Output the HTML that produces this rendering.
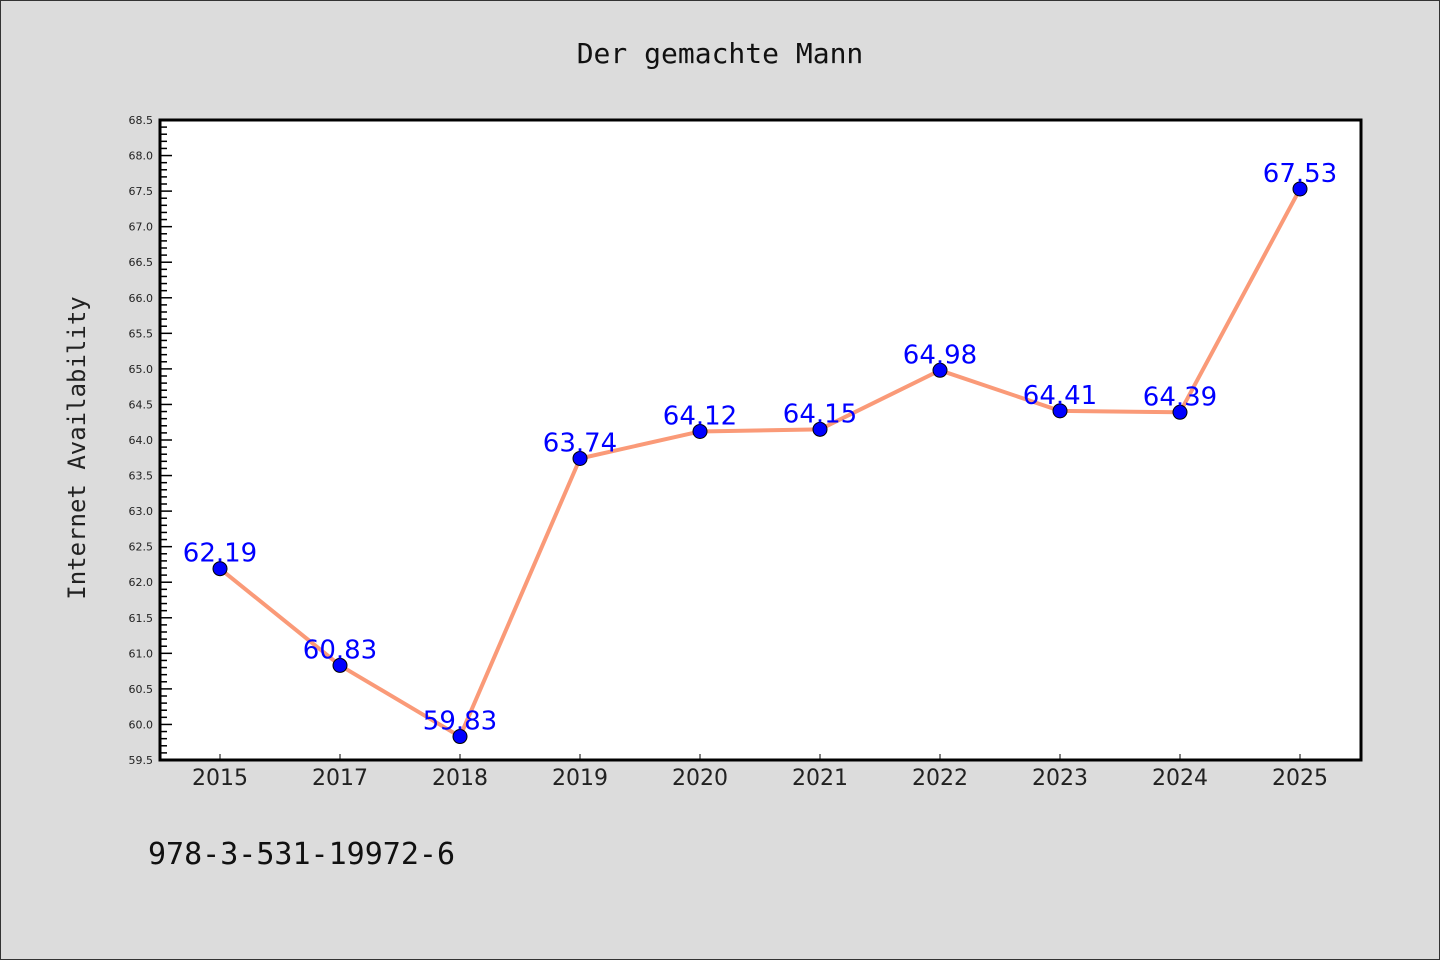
<!DOCTYPE html>
<html><head><meta charset="utf-8"><style>
body{margin:0;background:#dcdcdc;}
svg{display:block;}
</style></head><body>
<svg id="c" width="1440" height="960" xmlns="http://www.w3.org/2000/svg">
<rect x="0.5" y="0.5" width="1439" height="959" fill="#dcdcdc" stroke="#333"/>
<text x="720" y="63" text-anchor="middle" font-family="DejaVu Sans Mono, monospace" font-size="28" fill="#111">Der gemachte Mann</text>
<rect x="160" y="120" width="1201" height="640" fill="#fff"/>
<g id="ticks"></g>
<g id="series"></g>
<rect x="160" y="120" width="1201" height="640" fill="none" stroke="#000" stroke-width="3"/>
<text transform="translate(85,448) rotate(-90)" text-anchor="middle" font-family="DejaVu Sans Mono, monospace" font-size="24" fill="#222">Internet Availability</text>
<text x="148" y="864" font-family="DejaVu Sans Mono, monospace" font-size="30" fill="#111">978-3-531-19972-6</text>
</svg>
<script>
const categories=["2015","2017","2018","2019","2020","2021","2022","2023","2024","2025"];
const values=[62.19,60.83,59.83,63.74,64.12,64.15,64.98,64.41,64.39,67.53];
const labels=["62.19","60.83","59.83","63.74","64.12","64.15","64.98","64.41","64.39","67.53"];
const yMin=59.5,yMax=68.5;
const X0=160,W=1200,Y0=760,H=640;
const NS="http://www.w3.org/2000/svg";
function xs(i){return X0+W/categories.length*(i+0.5);}
function ys(v){return Y0-(v-yMin)/(yMax-yMin)*H;}
function mk(t,a,p){const e=document.createElementNS(NS,t);for(const k in a)e.setAttribute(k,a[k]);p.appendChild(e);return e;}
const tg=document.getElementById('ticks'),sg=document.getElementById('series');
for(let k=0;k<=90;k++){
  const v=yMin+k*0.1,y=ys(v),maj=k%5===0;
  const l=mk('line',{x1:160,x2:maj?172:167,y1:y,y2:y,stroke:'#000','stroke-width':1.5},tg);
  
  
  if(maj){const t=mk('text',{x:153,y:y+4,'text-anchor':'end','font-family':'DejaVu Sans, sans-serif','font-size':11,fill:'#222'},tg);t.textContent=v.toFixed(1);
  
  }
}
categories.forEach((c,i)=>{
  const x=xs(i);
  const l=mk('line',{x1:x,x2:x,y1:760,y2:754,stroke:'#000','stroke-width':1},tg);
  
  
  const t=mk('text',{x:x,y:785,'text-anchor':'middle','font-family':'DejaVu Sans, sans-serif','font-size':22,fill:'#222'},tg);t.textContent=c;
  
  
});
const pl=mk('polyline',{points:values.map((v,i)=>xs(i)+','+ys(v)).join(' '),fill:'none',stroke:'#fa9a78','stroke-width':4,'stroke-linejoin':'round'},sg);


values.forEach((v,i)=>{
  const c=mk('circle',{cx:xs(i),cy:ys(v),r:7,fill:'#0000ff',stroke:'#000','stroke-width':1},sg);
  
  
  const t=mk('text',{x:xs(i),y:ys(v)-7,'text-anchor':'middle','font-family':'DejaVu Sans, sans-serif','font-size':26,fill:'#0000ff'},sg);t.textContent=labels[i];
  
  
});
</script>
</body></html>
